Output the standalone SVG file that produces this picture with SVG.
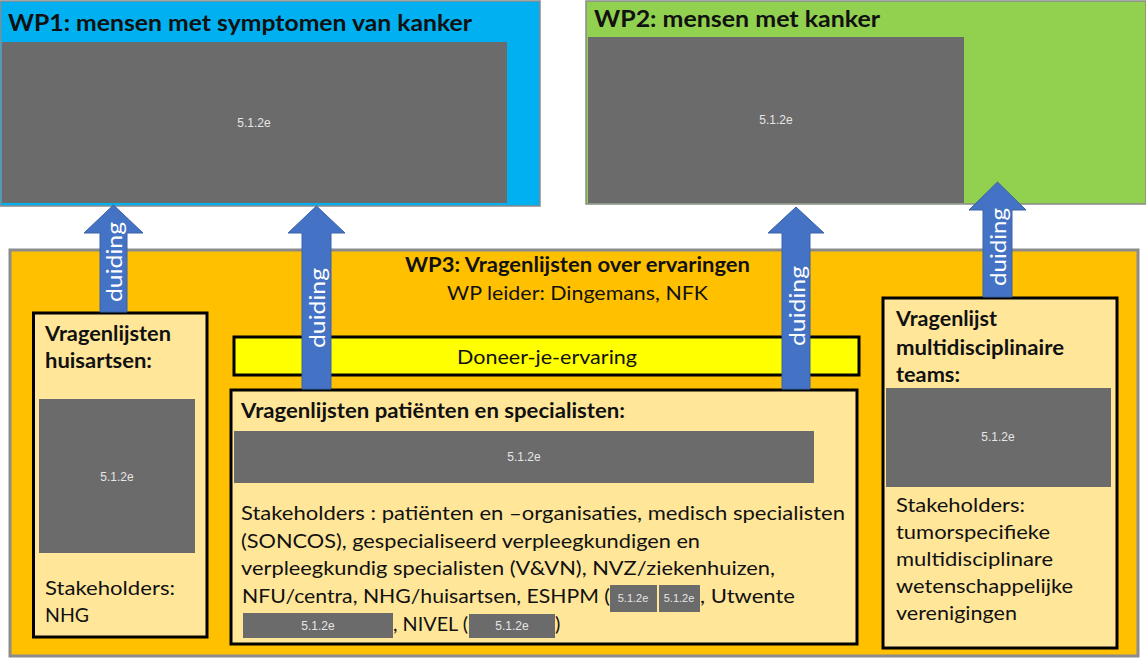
<svg xmlns="http://www.w3.org/2000/svg" width="1146" height="660" viewBox="0 0 1146 660">
<style>
text{font-family:Lato,"Open Sans","Liberation Sans",sans-serif;fill:#111}
.b{font-weight:bold}
.t22{font-size:22px}
.t21{font-size:21px}
.t20{font-size:20px}
.red{fill:#6b6b6b}
.rt{font-family:"Liberation Sans",Arial,sans-serif;font-size:12px;fill:#e6e6e6;text-anchor:middle}
.rs{font-family:"Liberation Sans",Arial,sans-serif;font-size:11px;fill:#e6e6e6;text-anchor:middle}
.box{fill:#ffe699;stroke:#000;stroke-width:3}
.arr{fill:#4472c4;stroke:#3a62a8;stroke-width:1}
.du{fill:#fff;font-size:21px;text-anchor:middle;dominant-baseline:central}
</style>
<rect width="1146" height="660" fill="#fff"/>
<g id="wp1">
<rect x="0.5" y="1" width="539.5" height="205" fill="#00b0f0" stroke="#8a8a8a" stroke-width="1.5"/>
<rect class="red" x="2" y="42" width="505" height="161"/>
<text class="rt" x="254" y="127">5.1.2e</text>
<text class="b t22" x="8" y="31" textLength="464" lengthAdjust="spacingAndGlyphs">WP1: mensen met symptomen van kanker</text>
</g>
<g id="wp2">
<rect x="586" y="1" width="560" height="203" fill="#92d050" stroke="#8a8a8a" stroke-width="1.5"/>
<rect class="red" x="588" y="37" width="376" height="166"/>
<text class="rt" x="776" y="124">5.1.2e</text>
<text class="b t22" x="594" y="27" textLength="286" lengthAdjust="spacingAndGlyphs">WP2: mensen met kanker</text>
</g>
<g id="wp3">
<rect x="10" y="250" width="1128" height="406" fill="#ffc000" stroke="#8c8c8c" stroke-width="3"/>
<text class="b t20" x="405" y="272" textLength="345" lengthAdjust="spacingAndGlyphs">WP3: Vragenlijsten over ervaringen</text>
<text class="t20" x="447" y="300" textLength="261" lengthAdjust="spacingAndGlyphs">WP leider: Dingemans, NFK</text>
</g>
<g id="huisartsen">
<rect class="box" x="33.5" y="313" width="173.5" height="324"/>
<text class="b t21" x="45" y="341" textLength="126" lengthAdjust="spacingAndGlyphs">Vragenlijsten</text>
<text class="b t21" x="45" y="368" textLength="107" lengthAdjust="spacingAndGlyphs">huisartsen:</text>
<rect class="red" x="39" y="399" width="156" height="154"/>
<text class="rt" x="117" y="481">5.1.2e</text>
<text class="t20" x="45" y="595" textLength="130" lengthAdjust="spacingAndGlyphs">Stakeholders:</text>
<text class="t20" x="45" y="622" textLength="44" lengthAdjust="spacingAndGlyphs">NHG</text>
</g>
<g id="doneer">
<rect x="234" y="337" width="625" height="38" fill="#ffff00" stroke="#000" stroke-width="3"/>
<text class="t20" x="457" y="364" textLength="180" lengthAdjust="spacingAndGlyphs">Doneer-je-ervaring</text>
</g>
<g id="patienten">
<rect class="box" x="231" y="390" width="626" height="254"/>
<text class="b t21" x="241" y="418" textLength="384" lengthAdjust="spacingAndGlyphs">Vragenlijsten patiënten en specialisten:</text>
<rect class="red" x="234" y="431" width="580" height="52"/>
<text class="rt" x="524" y="461">5.1.2e</text>
<text class="t20" x="241" y="520" textLength="604" lengthAdjust="spacingAndGlyphs">Stakeholders : patiënten en –organisaties, medisch specialisten</text>
<text class="t20" x="241" y="548" textLength="459" lengthAdjust="spacingAndGlyphs">(SONCOS), gespecialiseerd verpleegkundigen en</text>
<text class="t20" x="241" y="575" textLength="534" lengthAdjust="spacingAndGlyphs">verpleegkundig specialisten (V&amp;VN), NVZ/ziekenhuizen,</text>
<text class="t20" x="242" y="603" textLength="368" lengthAdjust="spacingAndGlyphs">NFU/centra, NHG/huisartsen, ESHPM (</text>
<rect class="red" x="610" y="585" width="47" height="27"/>
<text class="rs" x="633" y="602">5.1.2e</text>
<rect class="red" x="659" y="585" width="41" height="27"/>
<text class="rs" x="679" y="602" font-size="10">5.1.2e</text>
<text class="t20" x="700" y="603" textLength="95" lengthAdjust="spacingAndGlyphs">, Utwente</text>
<rect class="red" x="243" y="613" width="150" height="25"/>
<text class="rt" x="318" y="630">5.1.2e</text>
<text class="t20" x="393" y="631" textLength="75" lengthAdjust="spacingAndGlyphs">, NIVEL (</text>
<rect class="red" x="469" y="614" width="86" height="24"/>
<text class="rt" x="512" y="630">5.1.2e</text>
<text class="t20" x="555" y="631">)</text>
</g>
<g id="teams">
<rect class="box" x="883" y="298" width="234" height="350"/>
<text class="b t21" x="896" y="326" textLength="101" lengthAdjust="spacingAndGlyphs">Vragenlijst</text>
<text class="b t21" x="896" y="355" textLength="168" lengthAdjust="spacingAndGlyphs">multidisciplinaire</text>
<text class="b t21" x="896" y="382" textLength="64" lengthAdjust="spacingAndGlyphs">teams:</text>
<rect class="red" x="886" y="388" width="225" height="99"/>
<text class="rt" x="998" y="441">5.1.2e</text>
<text class="t20" x="896" y="512" textLength="129" lengthAdjust="spacingAndGlyphs">Stakeholders:</text>
<text class="t20" x="896" y="539" textLength="154" lengthAdjust="spacingAndGlyphs">tumorspecifieke</text>
<text class="t20" x="896" y="566" textLength="157" lengthAdjust="spacingAndGlyphs">multidisciplinare</text>
<text class="t20" x="896" y="593" textLength="177" lengthAdjust="spacingAndGlyphs">wetenschappelijke</text>
<text class="t20" x="896" y="620" textLength="121" lengthAdjust="spacingAndGlyphs">verenigingen</text>
</g>
<g id="connectors">
<path class="arr" d="M113.5,205 L143,233 L127,233 L127,312 L100,312 L100,233 L84,233 Z"/>
<text class="du" transform="translate(113.5,262) rotate(-90)" textLength="80" lengthAdjust="spacingAndGlyphs">duiding</text>
<path class="arr" d="M316.5,206 L345,233 L331,233 L331,389 L302,389 L302,233 L288,233 Z"/>
<text class="du" transform="translate(316.5,308) rotate(-90)" textLength="80" lengthAdjust="spacingAndGlyphs">duiding</text>
<path class="arr" d="M796,207 L824,233 L810,233 L810,389 L782,389 L782,233 L768,233 Z"/>
<text class="du" transform="translate(796,306) rotate(-90)" textLength="80" lengthAdjust="spacingAndGlyphs">duiding</text>
<path class="arr" d="M997.5,182 L1026,210 L1012,210 L1012,297 L983,297 L983,210 L969,210 Z"/>
<text class="du" transform="translate(997.5,247) rotate(-90)" textLength="78" lengthAdjust="spacingAndGlyphs">duiding</text>
</g>
</svg>
